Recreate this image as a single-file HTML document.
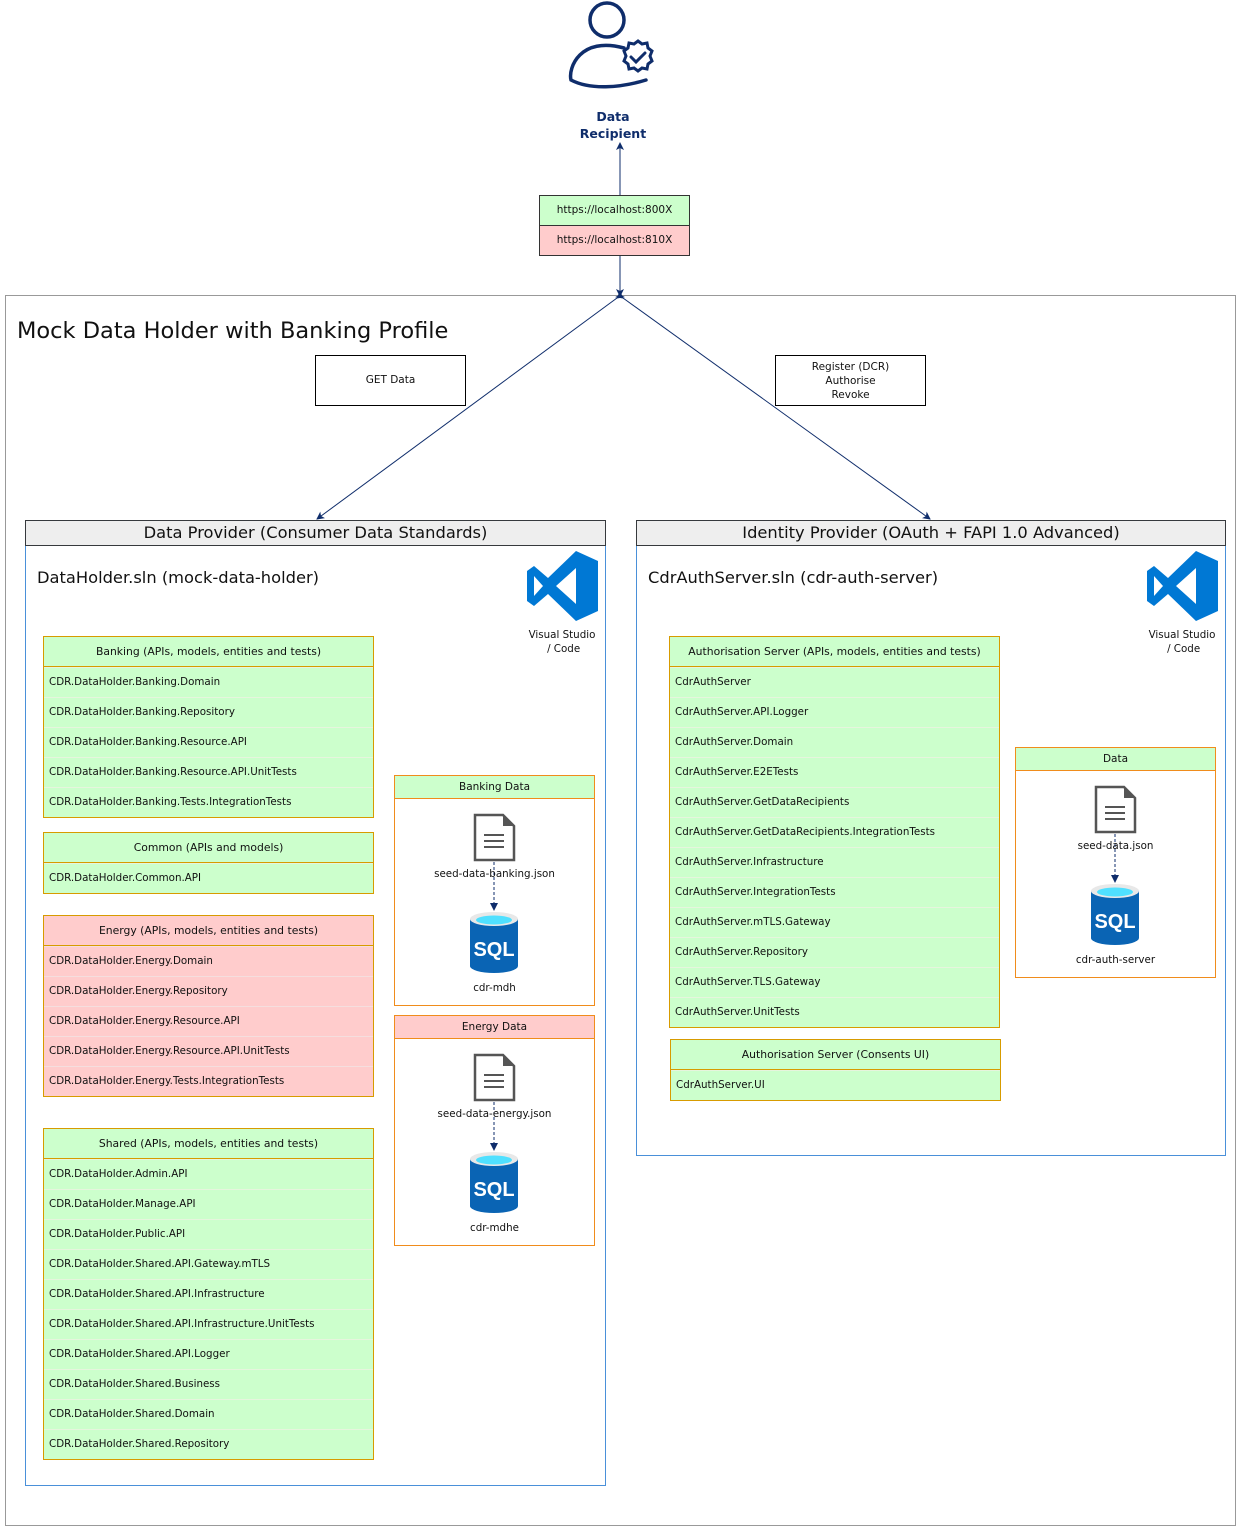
<!DOCTYPE html>
<html><head><meta charset="utf-8"><style>
*{box-sizing:border-box;margin:0;padding:0}
body{width:1241px;height:1531px;position:relative;background:#fff;font-family:"DejaVu Sans",sans-serif;color:#111;overflow:hidden}
.a{position:absolute}
.lst{position:absolute;border:1px solid #d79b00;}
.lst div{height:30px;line-height:29px;font-size:10.3px;padding-left:5px;border-top:1px solid #e8e0c0;white-space:nowrap}
.lst .h{text-align:center;padding:0;border-top:none;border-bottom:1px solid #d79b00;font-size:10.8px}
.g{background:#ccffcc}.r{background:#ffcccc}
.g div{border-top-color:#e6f5dd}.r div{border-top-color:#f5dede}
.box{position:absolute;border:1px solid #000;background:#fff;font-size:10.5px;text-align:center}
.t{position:absolute;font-size:10.3px;text-align:center;white-space:nowrap}
</style></head><body>
<div class="a" style="left:5px;top:295px;width:1231px;height:1231px;border:1px solid #999"></div>
<div class="a" style="left:17px;top:318px;font-size:22.5px;">Mock Data Holder with Banking Profile</div>

<div class="a" style="left:539px;top:195px;width:151px;height:31px;border:1px solid #333;background:#ccffcc;font-size:10.5px;line-height:29px;text-align:center">https://localhost:800X</div>
<div class="a" style="left:539px;top:225px;width:151px;height:31px;border:1px solid #333;background:#ffcccc;font-size:10.5px;line-height:29px;text-align:center">https://localhost:810X</div>
<div class="a" style="left:563px;top:108px;width:100px;text-align:center;font-size:12.5px;font-weight:bold;color:#0f2d6b;line-height:17px">Data<br>Recipient</div>

<div class="box" style="left:315px;top:355px;width:151px;height:51px;line-height:49px">GET Data</div>
<div class="box" style="left:775px;top:355px;width:151px;height:51px;padding-top:4px;line-height:14px">Register (DCR)<br>Authorise<br>Revoke</div>

<div class="a" style="left:25px;top:520px;width:581px;height:966px;border:1px solid #4a90d9"></div>
<div class="a" style="left:25px;top:520px;width:581px;height:26px;border:1px solid #36393d;background:#eeeeee;text-align:center;font-size:16.3px;line-height:24px">Data Provider (Consumer Data Standards)</div>
<div class="a" style="left:37px;top:568px;font-size:16.3px">DataHolder.sln (mock-data-holder)</div>
<div class="t" style="left:522px;top:628px;width:80px;line-height:14px">Visual Studio<br>&nbsp;/ Code</div>

<div class="a" style="left:636px;top:520px;width:590px;height:636px;border:1px solid #4a90d9"></div>
<div class="a" style="left:636px;top:520px;width:590px;height:26px;border:1px solid #36393d;background:#eeeeee;text-align:center;font-size:16.3px;line-height:24px">Identity Provider (OAuth + FAPI 1.0 Advanced)</div>
<div class="a" style="left:648px;top:568px;font-size:16.3px">CdrAuthServer.sln (cdr-auth-server)</div>
<div class="t" style="left:1142px;top:628px;width:80px;line-height:14px">Visual Studio<br>&nbsp;/ Code</div>

<div class="lst g" style="left:43px;top:636px;width:331px"><div class="h">Banking (APIs, models, entities and tests)</div><div>CDR.DataHolder.Banking.Domain</div><div>CDR.DataHolder.Banking.Repository</div><div>CDR.DataHolder.Banking.Resource.API</div><div>CDR.DataHolder.Banking.Resource.API.UnitTests</div><div>CDR.DataHolder.Banking.Tests.IntegrationTests</div></div>
<div class="lst g" style="left:43px;top:832px;width:331px"><div class="h">Common (APIs and models)</div><div>CDR.DataHolder.Common.API</div></div>
<div class="lst r" style="left:43px;top:915px;width:331px"><div class="h">Energy (APIs, models, entities and tests)</div><div>CDR.DataHolder.Energy.Domain</div><div>CDR.DataHolder.Energy.Repository</div><div>CDR.DataHolder.Energy.Resource.API</div><div>CDR.DataHolder.Energy.Resource.API.UnitTests</div><div>CDR.DataHolder.Energy.Tests.IntegrationTests</div></div>
<div class="lst g" style="left:43px;top:1128px;width:331px"><div class="h">Shared (APIs, models, entities and tests)</div><div>CDR.DataHolder.Admin.API</div><div>CDR.DataHolder.Manage.API</div><div>CDR.DataHolder.Public.API</div><div>CDR.DataHolder.Shared.API.Gateway.mTLS</div><div>CDR.DataHolder.Shared.API.Infrastructure</div><div>CDR.DataHolder.Shared.API.Infrastructure.UnitTests</div><div>CDR.DataHolder.Shared.API.Logger</div><div>CDR.DataHolder.Shared.Business</div><div>CDR.DataHolder.Shared.Domain</div><div>CDR.DataHolder.Shared.Repository</div></div>

<div class="lst g" style="left:669px;top:636px;width:331px"><div class="h">Authorisation Server (APIs, models, entities and tests)</div><div>CdrAuthServer</div><div>CdrAuthServer.API.Logger</div><div>CdrAuthServer.Domain</div><div>CdrAuthServer.E2ETests</div><div>CdrAuthServer.GetDataRecipients</div><div>CdrAuthServer.GetDataRecipients.IntegrationTests</div><div>CdrAuthServer.Infrastructure</div><div>CdrAuthServer.IntegrationTests</div><div>CdrAuthServer.mTLS.Gateway</div><div>CdrAuthServer.Repository</div><div>CdrAuthServer.TLS.Gateway</div><div>CdrAuthServer.UnitTests</div></div>
<div class="lst g" style="left:670px;top:1039px;width:331px"><div class="h">Authorisation Server (Consents UI)</div><div>CdrAuthServer.UI</div></div>

<div class="a" style="left:394px;top:775px;width:201px;height:231px;border:1px solid #f08c1c"></div>
<div class="a g" style="left:394px;top:775px;width:201px;height:24px;border:1px solid #f08c1c;text-align:center;font-size:10.5px;line-height:22px">Banking Data</div>
<div class="a" style="left:394px;top:1015px;width:201px;height:231px;border:1px solid #f08c1c"></div>
<div class="a r" style="left:394px;top:1015px;width:201px;height:24px;border:1px solid #f08c1c;text-align:center;font-size:10.5px;line-height:22px">Energy Data</div>
<div class="a" style="left:1015px;top:747px;width:201px;height:231px;border:1px solid #f08c1c"></div>
<div class="a g" style="left:1015px;top:747px;width:201px;height:24px;border:1px solid #f08c1c;text-align:center;font-size:10.5px;line-height:22px">Data</div>

<svg class="a" style="left:0;top:0" width="1241" height="1531">
<defs><marker id="ar" markerWidth="8" markerHeight="8" refX="7" refY="4" orient="auto" markerUnits="userSpaceOnUse"><path d="M0,0 L8,4 L0,8 L2,4z" fill="#0f2d6b"/></marker></defs>
<g stroke="#0f2d6b" stroke-width="1" fill="none">
<line x1="620" y1="195" x2="620" y2="143" marker-end="url(#ar)"/>
<line x1="620" y1="256" x2="620" y2="296" marker-end="url(#ar)"/>
<line x1="617" y1="298" x2="317" y2="519" marker-end="url(#ar)" marker-start="url(#ar)"/>
<line x1="623" y1="298" x2="930" y2="519" marker-end="url(#ar)" marker-start="url(#ar)"/>
</g>
<g stroke="#0f2d6b" stroke-width="3.5" fill="none" stroke-linecap="round">
<circle cx="607" cy="20" r="17"/>
<path d="M624,48 C580,36 568,68 571,80 C590,90 620,88 646,80"/>
<path d="M638,41 l4,3 5,-1 1,5 4,3 -2,5 2,5 -4,3 -1,5 -5,-1 -4,3 -4,-3 -5,1 -1,-5 -4,-3 2,-5 -2,-5 4,-3 1,-5 5,1z" stroke-width="3"/>
<path d="M631,57 l5,5 9,-9" stroke-width="3"/>
</g>
<g fill="#0078d4">
<path d="M576,551 L598,561 L598,611 L576,621 L548,594 L534,606 L527,601 L527,571 L534,566 L548,578 Z M576,568 L556,586 L576,604 Z M534,576 L534,596 L543,586 Z" fill-rule="evenodd"/>
<path d="M1196,551 L1218,561 L1218,611 L1196,621 L1168,594 L1154,606 L1147,601 L1147,571 L1154,566 L1168,578 Z M1196,568 L1176,586 L1196,604 Z M1154,576 L1154,596 L1163,586 Z" fill-rule="evenodd"/>
</g>
<g>
<path d="M475,815 h28 l11,11 v34 h-39z" fill="#fff" stroke="#555" stroke-width="2.5"/><path d="M503,815 v11 h11z" fill="#555"/>
<path d="M484,835 h20 M484,841 h20 M484,847 h20" stroke="#555" stroke-width="2"/>
<line x1="494" y1="862" x2="494" y2="908" stroke="#0f2d6b" stroke-dasharray="3,2"/><path d="M490,903 l4,8 4,-8z" fill="#0f2d6b"/>
<path d="M470,919 v47 a24,7 0 0 0 48,0 v-47z" fill="#0a64b4"/><ellipse cx="494" cy="919" rx="24" ry="7" fill="#e8e8e8"/><ellipse cx="494" cy="920" rx="18" ry="4.5" fill="#50e0ff"/>
<text x="494" y="956" font-family="Liberation Sans" font-weight="bold" font-size="20" fill="#fff" text-anchor="middle">SQL</text>
</g>
<g transform="translate(0,240)">
<path d="M475,815 h28 l11,11 v34 h-39z" fill="#fff" stroke="#555" stroke-width="2.5"/><path d="M503,815 v11 h11z" fill="#555"/>
<path d="M484,835 h20 M484,841 h20 M484,847 h20" stroke="#555" stroke-width="2"/>
<line x1="494" y1="862" x2="494" y2="908" stroke="#0f2d6b" stroke-dasharray="3,2"/><path d="M490,903 l4,8 4,-8z" fill="#0f2d6b"/>
<path d="M470,919 v47 a24,7 0 0 0 48,0 v-47z" fill="#0a64b4"/><ellipse cx="494" cy="919" rx="24" ry="7" fill="#e8e8e8"/><ellipse cx="494" cy="920" rx="18" ry="4.5" fill="#50e0ff"/>
<text x="494" y="956" font-family="Liberation Sans" font-weight="bold" font-size="20" fill="#fff" text-anchor="middle">SQL</text>
</g>
<g transform="translate(621,-28)">
<path d="M475,815 h28 l11,11 v34 h-39z" fill="#fff" stroke="#555" stroke-width="2.5"/><path d="M503,815 v11 h11z" fill="#555"/>
<path d="M484,835 h20 M484,841 h20 M484,847 h20" stroke="#555" stroke-width="2"/>
<line x1="494" y1="862" x2="494" y2="908" stroke="#0f2d6b" stroke-dasharray="3,2"/><path d="M490,903 l4,8 4,-8z" fill="#0f2d6b"/>
<path d="M470,919 v47 a24,7 0 0 0 48,0 v-47z" fill="#0a64b4"/><ellipse cx="494" cy="919" rx="24" ry="7" fill="#e8e8e8"/><ellipse cx="494" cy="920" rx="18" ry="4.5" fill="#50e0ff"/>
<text x="494" y="956" font-family="Liberation Sans" font-weight="bold" font-size="20" fill="#fff" text-anchor="middle">SQL</text>
</g>
</svg>
<div class="t" style="left:394px;top:868px;width:201px">seed-data-banking.json</div>
<div class="t" style="left:394px;top:982px;width:201px">cdr-mdh</div>
<div class="t" style="left:394px;top:1108px;width:201px">seed-data-energy.json</div>
<div class="t" style="left:394px;top:1222px;width:201px">cdr-mdhe</div>
<div class="t" style="left:1015px;top:840px;width:201px">seed-data.json</div>
<div class="t" style="left:1015px;top:954px;width:201px">cdr-auth-server</div>
</body></html>
